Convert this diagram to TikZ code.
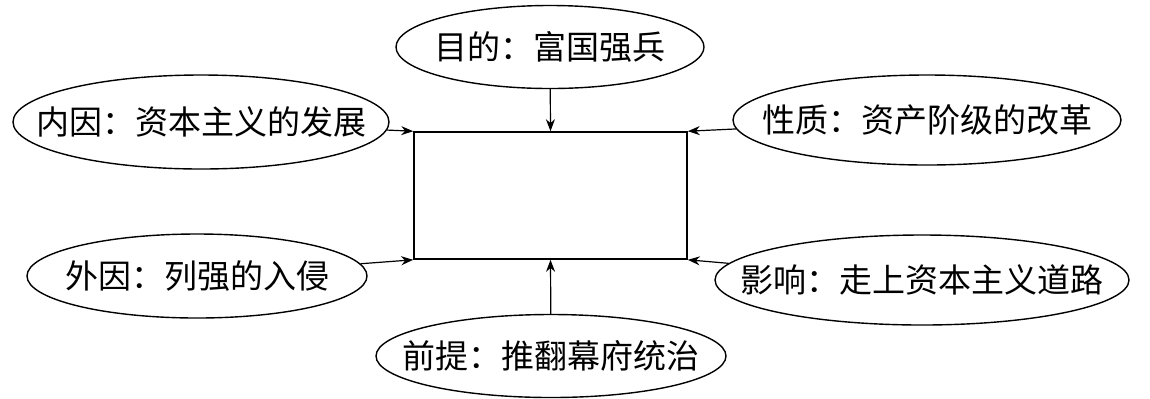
\documentclass[tikz,border=0pt]{standalone}
\usepackage{fontspec}
\newfontfamily\cjk{Noto Sans CJK SC}
\usetikzlibrary{shapes.geometric,arrows.meta}
\newcommand\ovaltext[1]{\makebox[0pt][c]{#1}}
\begin{document}
\begin{tikzpicture}[x=0.5pt,y=-0.5pt,
  oval/.style={draw,ellipse,line width=0.7pt,inner sep=0pt,font=\cjk\fontsize{16.5}{18}\selectfont},
  arr/.style={-{Stealth[length=6pt,width=4.5pt]},line width=0.6pt},
  box/.style={draw,line width=0.8pt,inner sep=0pt}]
\useasboundingbox (0,0) rectangle (1150,398);
\node[box,minimum width=136.5pt,minimum height=63.5pt] (c) at (550.5,195.5) {};
\node[oval,minimum width=154pt,minimum height=41.5pt] (t) at (550,47) {\ovaltext{目的：富国强兵}};
\node[oval,minimum width=188pt,minimum height=47pt] (lt) at (201,122) {\ovaltext{内因：资本主义的发展}};
\node[oval,minimum width=194pt,minimum height=45pt] (rt) at (927,120) {\ovaltext{性质：资产阶级的改革}};
\node[oval,minimum width=170pt,minimum height=42pt] (lb) at (197,276) {\ovaltext{外因：列强的入侵}};
\node[oval,minimum width=207pt,minimum height=45pt] (rb) at (922,280) {\ovaltext{影响：走上资本主义道路}};
\node[oval,minimum width=175pt,minimum height=41.5pt] (b) at (551,356) {\ovaltext{前提：推翻幕府统治}};
\draw[arr] (t) -- (c.north);
\draw[arr] (lt) -- (c.north west);
\draw[arr] (rt) -- (c.north east);
\draw[arr] (lb) -- (c.south west);
\draw[arr] (rb) -- (c.south east);
\draw[arr] (b) -- (c.south);
\end{tikzpicture}
\end{document}
